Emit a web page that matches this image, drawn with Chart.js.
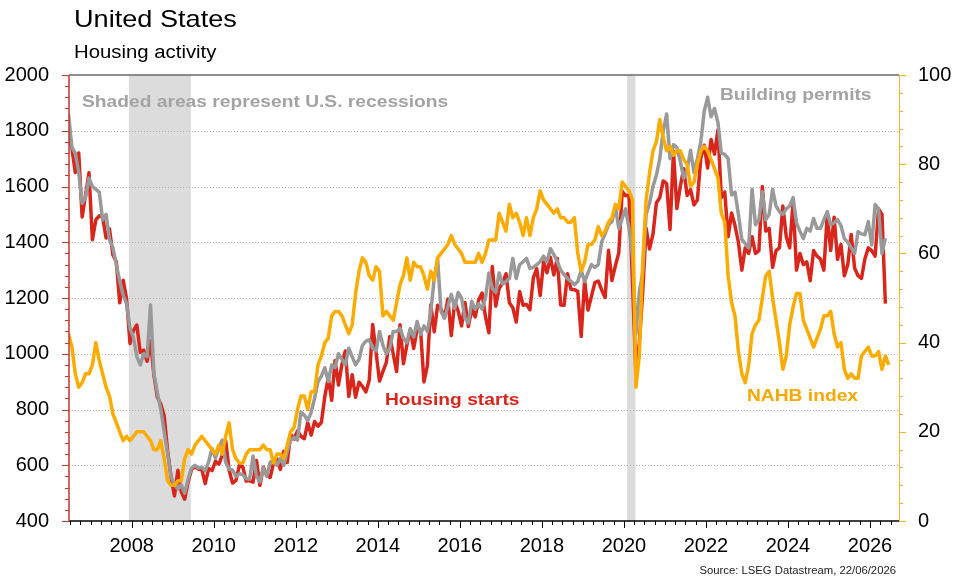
<!DOCTYPE html>
<html>
<head>
<meta charset="utf-8">
<script src="https://cdn.jsdelivr.net/npm/chart.js@4.4.1/dist/chart.umd.min.js"></script>
<style>
  body { margin: 0; background: #fff; }
  #wrap { position: relative; width: 961px; height: 578px; }
  .t {
    position: absolute; white-space: nowrap; line-height: 1;
    font-family: "Liberation Sans", Arial, sans-serif;
    transform-origin: 0 0; transform: scaleX(1.13);
  }
  .lbl { font-size: 17px; font-weight: bold; }
</style>
</head>
<body>
<div id="wrap">
  <canvas id="housingChart"></canvas>
  <div class="t" style="left:74px; top:7px; font-size:24px; color:#000;">United States</div>
  <div class="t" style="left:74px; top:43px; font-size:18px; color:#000;">Housing activity</div>
  <div class="t lbl" style="left:82px; top:93px; color:#a3a3a3;">Shaded areas represent U.S. recessions</div>
  <div class="t lbl" style="left:720px; top:86px; color:#a3a3a3;">Building permits</div>
  <div class="t lbl" style="left:385px; top:391px; color:#d9261c;">Housing starts</div>
  <div class="t lbl" style="left:747px; top:387px; color:#f5a800;">NAHB index</div>
  <div class="t" style="right:65px; top:566px; font-size:10px; color:#222; transform-origin:100% 0;">Source: LSEG Datastream, 22/06/2026</div>
</div>
<script>
// monthly data, first observation June 2006
const startYear = 2006;
const startMonth = 6;

// housing starts, thousands (left axis), Jun 2006 - May 2026
const housingStarts = [
  1780, 1737, 1650, 1720, 1491, 1570, 1649,
  1409, 1480, 1495, 1490, 1415, 1448, 1354, 1330, 1183, 1264, 1197, 1037,
  1084, 1103, 1005, 1013, 973, 1046, 923, 844, 820, 777, 652, 560,
  490, 582, 505, 478, 540, 585, 594, 586, 585, 534, 588, 581,
  614, 604, 636, 687, 583, 536, 546, 599, 594, 543, 545, 539,
  617, 528, 593, 565, 556, 608, 623, 585, 650, 610, 711, 694,
  723, 704, 695, 753, 708, 757, 740, 754, 847, 915, 833, 976,
  888, 962, 1010, 847, 925, 844, 898, 883, 863, 905, 1105, 1003,
  902, 937, 969, 1062, 1000, 936, 1104, 964, 1031, 1087, 1019, 1088,
  1087, 899, 957, 1176, 1079, 1174, 1160, 1131, 1196, 1065, 1188, 1154,
  1100, 1184, 1098, 1161, 1132, 1192, 1218, 1133, 1075, 1313, 1171, 1234,
  1254, 1287, 1183, 1165, 1114, 1223, 1174, 1177, 1158, 1272, 1305, 1209,
  1329, 1291, 1346, 1283, 1342, 1175, 1174, 1287, 1231, 1230, 1224, 1062,
  1262, 1157, 1206, 1255, 1261, 1229, 1202, 1371, 1263, 1315, 1362, 1583,
  1567, 1570, 1261, 934, 1038, 1220, 1450, 1376, 1428, 1541, 1560, 1620,
  1610, 1446, 1726, 1521, 1600, 1664, 1568, 1589, 1534, 1552, 1703, 1748,
  1666, 1769, 1716, 1803, 1560, 1580, 1420, 1505, 1460, 1400, 1300, 1380,
  1360, 1420, 1360, 1370, 1600, 1440, 1450, 1310, 1370, 1380, 1530, 1420,
  1380, 1546, 1300, 1360, 1320, 1330, 1262, 1370, 1350, 1340, 1300, 1500,
  1370, 1490, 1339, 1392, 1280, 1320, 1428, 1307, 1280, 1270, 1340, 1380,
  1370, 1350, 1520, 1500, 1180
];

// building permits, thousands (left axis), Jun 2006 - May 2026
const buildingPermits = [
  1860, 1740, 1720, 1650, 1540, 1560, 1630,
  1600, 1590, 1580, 1480, 1500, 1410, 1380, 1320, 1260, 1210, 1180, 1090,
  1060, 990, 960, 1000, 990, 1175, 930, 860, 800, 720, 640, 560,
  530, 515, 530, 500, 550, 590, 600, 590, 593, 580, 612, 660,
  625, 665, 690, 610, 586, 583, 560, 570, 566, 552, 550, 633,
  562, 540, 590, 560, 610, 620, 600, 625, 600, 650, 690, 700,
  690, 790, 780, 760, 790, 840, 900, 920, 950, 900, 960, 950,
  1000, 980, 960, 1020, 990, 960, 980, 1030, 1045, 1050, 1020, 1010,
  1080, 1030, 1000, 1020, 1080, 1080, 1091, 1055, 1040, 1090, 1060, 1116,
  1070, 1100, 1080, 1150, 1270, 1340, 1152, 1127, 1170, 1213, 1163, 1220,
  1200, 1127, 1110, 1188, 1160, 1180, 1160, 1200, 1290, 1234, 1220, 1290,
  1250, 1260, 1270, 1342, 1270, 1320, 1330, 1342, 1306, 1310, 1320, 1330,
  1350, 1330, 1377, 1356, 1331, 1300, 1284, 1270, 1260, 1248, 1259, 1300,
  1259, 1290, 1320, 1310, 1320, 1402, 1430, 1463, 1474, 1528, 1449, 1485,
  1520, 1450, 1350, 1070, 1220, 1290, 1500, 1540, 1600, 1640, 1700, 1800,
  1860, 1700, 1750, 1740, 1690, 1630, 1660, 1730, 1650, 1700, 1760, 1870,
  1920, 1850, 1880, 1830, 1720, 1715, 1700, 1570, 1580, 1500, 1410, 1395,
  1380, 1590, 1463, 1480, 1581, 1480, 1500, 1590, 1530, 1510, 1500, 1520,
  1530, 1560, 1470, 1440, 1413, 1450, 1440, 1485, 1450, 1450, 1480, 1510,
  1463, 1470, 1481, 1460, 1413, 1400, 1380, 1360, 1438, 1430, 1427, 1474,
  1390, 1535, 1520, 1360, 1415
];

// NAHB housing market index (right axis), Jun 2006 - Jun 2026
const nahbIndex = [
  42, 39, 33, 30, 31, 33, 33,
  35, 40, 36, 33, 30, 28, 24, 22, 20, 18, 19, 18,
  19, 20, 20, 20, 19, 18, 16, 16, 18, 14, 9, 8,
  8, 9, 9, 14, 16, 15, 17, 18, 19, 18, 17, 16,
  15, 17, 15, 19, 22, 16, 14, 13, 13, 15, 16, 16,
  16, 16, 17, 16, 16, 13, 15, 15, 14, 17, 20, 21,
  25, 28, 28, 25, 29, 29, 35, 37, 40, 41, 46, 47,
  47, 46, 44, 42, 44, 51, 56, 59, 58, 55, 54, 57,
  56, 46, 47, 46, 45, 49, 53, 55, 59, 54, 58, 57,
  57, 55, 52, 56, 54, 59, 60, 61, 62, 64, 62, 61,
  60, 58, 58, 58, 58, 60, 58, 60, 63, 63, 63, 69,
  67, 65, 71, 68, 69, 67, 64, 68, 64, 68, 70, 74,
  72, 71, 70, 69, 70, 68, 68, 67, 67, 68, 60, 56,
  58, 62, 62, 63, 66, 64, 65, 67, 68, 71, 70, 76,
  75, 74, 72, 30, 37, 58, 72, 78, 83, 85, 90, 86,
  83, 84, 82, 83, 83, 81, 80, 75, 76, 80, 83, 84,
  83, 81, 79, 77, 69, 67, 55, 49, 46, 38, 33, 31,
  35, 42, 44, 45, 50, 55, 56, 50, 45, 40, 34, 37,
  44, 48, 51, 51, 45, 43, 41, 39, 41, 43, 46, 46,
  47, 42, 39, 40, 34, 32, 33, 32, 32, 37, 38, 39,
  37, 37, 38, 34, 37, 35
];

// US recessions (decimal years)
const recessionStart = [2007.93, 2020.08];
const recessionEnd = [2009.44, 2020.28];

// tick labels
const yearTicks = [2008, 2010, 2012, 2014, 2016, 2018, 2020, 2022, 2024, 2026];
const leftTicks = [400, 600, 800, 1000, 1200, 1400, 1600, 1800, 2000];
const rightTicks = [0, 20, 40, 60, 80, 100];

const RED = "#d9261c";
const GREY = "#999999";
const ORANGE = "#fcab00";
const FONT = { family: "'Liberation Sans', Arial, sans-serif", size: 20 };

// mid-month position of the i-th observation
function monthPos(i) {
    return startYear + (startMonth - 1 + i + 0.5) / 12;
}

function toPoints(values) {
    return values.map((v, i) => ({ x: monthPos(i), y: v }));
}

function setTicks(list) {
    return scale => { scale.ticks = list.map(v => ({ value: v })); };
}

function hLine(ctx, x0, x1, y) {
    ctx.beginPath(); ctx.moveTo(x0, y); ctx.lineTo(x1, y); ctx.stroke();
}

function vLine(ctx, x, y0, y1) {
    ctx.beginPath(); ctx.moveTo(x, y0); ctx.lineTo(x, y1); ctx.stroke();
}

// shading, dotted grid, axis lines and tick marks
const framePlugin = {
    id: "frame",
    beforeDatasetsDraw(chart) {
        let { ctx, chartArea: a, scales } = chart;
        ctx.save();
        ctx.fillStyle = "#dcdcdc";
        recessionStart.forEach((s, i) => {
            let x0 = scales.x.getPixelForValue(s);
            let x1 = scales.x.getPixelForValue(recessionEnd[i]);
            ctx.fillRect(x0, a.top, x1 - x0, a.bottom - a.top);
        });
        ctx.strokeStyle = "#b0b0b0";
        ctx.lineWidth = 1;
        ctx.setLineDash([1, 2]);
        leftTicks.slice(1, -1).forEach(v => {
            let y = Math.round(scales.yL.getPixelForValue(v)) + 0.5;
            hLine(ctx, a.left, a.right, y);
        });
        ctx.restore();
    },
    afterDatasetsDraw(chart) {
        let { ctx, chartArea: a, scales } = chart;
        ctx.save();
        ctx.lineWidth = 1;

        // left axis ticks every 40, longer at labels
        ctx.strokeStyle = "#c0392b";
        for (let v = 400; v <= 2000; v += 40) {
            let y = Math.round(scales.yL.getPixelForValue(v)) + 0.5;
            hLine(ctx, a.left - (v % 200 === 0 ? 7 : 4), a.left, y);
        }
        // right axis ticks every 4
        ctx.strokeStyle = "#f2b233";
        for (let v = 0; v <= 100; v += 4) {
            let y = Math.round(scales.yR.getPixelForValue(v)) + 0.5;
            hLine(ctx, a.right, a.right + (v % 20 === 0 ? 7 : 4), y);
        }
        // x axis ticks quarterly
        ctx.strokeStyle = "#000";
        for (let q = 2006.5; q <= 2026.5; q += 0.25) {
            let x = Math.round(scales.x.getPixelForValue(q)) + 0.5;
            let major = Number.isInteger(q) && q % 2 === 0;
            vLine(ctx, x, a.bottom, a.bottom + (major ? 7 : 4));
        }

        // frame lines
        ctx.lineWidth = 1.5;
        ctx.strokeStyle = "#6a6a6a";
        hLine(ctx, a.left, a.right, a.top);
        ctx.strokeStyle = "#000";
        hLine(ctx, a.left, a.right, a.bottom);
        ctx.strokeStyle = "#c0392b";
        vLine(ctx, a.left, a.top, a.bottom);
        ctx.lineWidth = 1;
        ctx.strokeStyle = "#f2b233";
        vLine(ctx, a.right + 0.5, a.top, a.bottom);
        ctx.restore();
    }
};

function lineSet(label, values, color, axis) {
    return {
        label: label,
        data: toPoints(values),
        yAxisID: axis,
        borderColor: color,
        borderWidth: 3.5,
        borderJoinStyle: "round",
        pointRadius: 0,
        tension: 0,
        fill: false
    };
}

new Chart(document.getElementById("housingChart"), {
    type: "line",
    data: {
        datasets: [
            lineSet("NAHB index", nahbIndex, ORANGE, "yR"),
            lineSet("Building permits", buildingPermits, GREY, "yL"),
            lineSet("Housing starts", housingStarts, RED, "yL")
        ]
    },
    options: {
        responsive: true,
        maintainAspectRatio: false,
        animation: false,
        layout: { padding: { top: 75, left: 0, right: 0, bottom: 0 } },
        plugins: { legend: { display: false }, tooltip: { enabled: false } },
        scales: {
            x: {
                type: "linear",
                min: 2006.471,
                max: 2026.707,
                afterBuildTicks: setTicks(yearTicks),
                afterFit: s => { s.height = 57; },
                grid: { display: false },
                border: { display: false },
                ticks: { font: FONT, color: "#000", padding: 5, maxRotation: 0, autoSkip: false, callback: v => String(v) }
            },
            yL: {
                position: "left",
                min: 400,
                max: 2000,
                afterBuildTicks: setTicks(leftTicks),
                afterFit: s => { s.width = 69; },
                grid: { display: false },
                border: { display: false },
                ticks: { font: FONT, color: "#000", padding: 12, callback: v => String(v) }
            },
            yR: {
                position: "right",
                min: 0,
                max: 100,
                afterBuildTicks: setTicks(rightTicks),
                afterFit: s => { s.width = 62; },
                grid: { display: false },
                border: { display: false },
                ticks: { font: FONT, color: "#000", padding: 11, callback: v => String(v) }
            }
        }
    },
    plugins: [framePlugin]
});
</script>
</body>
</html>
